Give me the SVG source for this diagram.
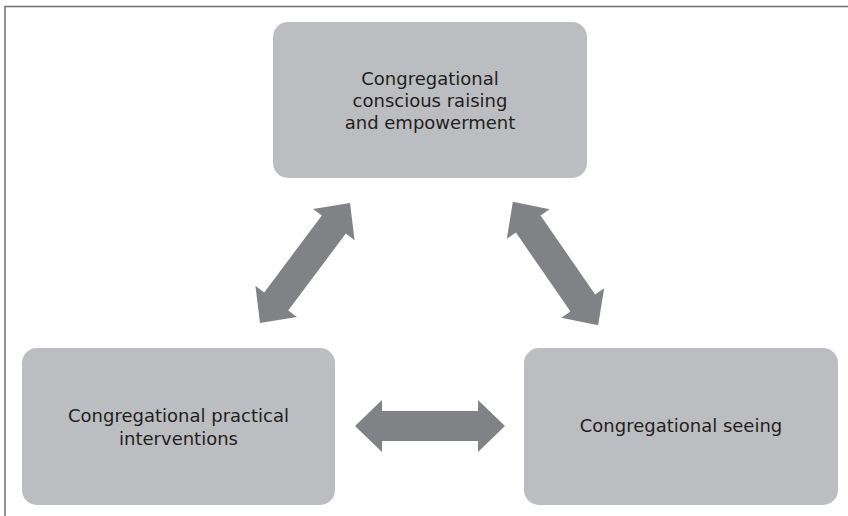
<svg xmlns="http://www.w3.org/2000/svg" width="848" height="516" viewBox="0 0 848 516">
  <style>
    .box { fill: #bcbdc0; }
    .label { font-family: "DejaVu Sans", "Liberation Sans", sans-serif; font-size: 18px; fill: #231f20; text-anchor: middle; }
    .arrow { fill: #808285; }
  </style>
  <defs>
    <!-- double-headed block arrow, 150 long, centred on the origin along x -->
    <path id="dbl-arrow" d="M -75 0 L -48 -26 L -48 -15 L 48 -15 L 48 -26 L 75 0 L 48 26 L 48 15 L -48 15 L -48 26 Z"/>
  </defs>

  <rect width="848" height="516" fill="#ffffff"/>
  <!-- outer frame, open past the right and bottom edges -->
  <rect x="5" y="6.5" width="900" height="600" fill="none" stroke="#6d6e71" stroke-width="1.5"/>

  <g id="connectors" class="arrow">
    <use href="#dbl-arrow" transform="translate(305 263) rotate(-53.13)"/>
    <use href="#dbl-arrow" transform="translate(555.5 263.5) rotate(55.35)"/>
    <use href="#dbl-arrow" transform="translate(430 426)"/>
  </g>

  <g id="node-empowerment">
    <rect class="box" x="273" y="22" width="314" height="156" rx="15"/>
    <text class="label" x="430" y="85">Congregational</text>
    <text class="label" x="430" y="107">conscious raising</text>
    <text class="label" x="430" y="129">and empowerment</text>
  </g>

  <g id="node-interventions">
    <rect class="box" x="22" y="348" width="313" height="157" rx="15"/>
    <text class="label" x="178.5" y="422">Congregational practical</text>
    <text class="label" x="178.5" y="445">interventions</text>
  </g>

  <g id="node-seeing">
    <rect class="box" x="524" y="348" width="314" height="157" rx="15"/>
    <text class="label" x="681" y="432">Congregational seeing</text>
  </g>
</svg>
